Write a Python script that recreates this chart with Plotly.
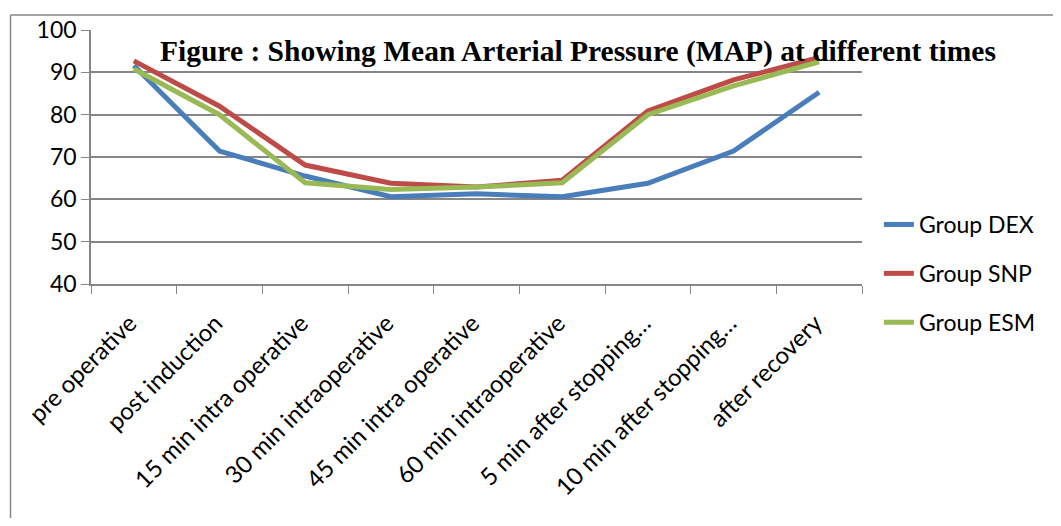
import plotly.graph_objects as go

categories = ["pre operative", "post induction", "15 min intra operative",
              "30 min intraoperative", "45 min intra operative", "60 min intraoperative",
              "5 min after stopping…", "10 min after stopping…", "after recovery"]
dex = [91.6, 71.4, 65.5, 60.6, 61.3, 60.6, 63.8, 71.4, 85.3]
snp = [92.7, 82.0, 68.1, 63.8, 62.9, 64.5, 80.9, 88.2, 93.5]
esm = [90.8, 80.0, 63.9, 62.3, 62.9, 63.9, 80.0, 86.8, 92.5]
series_names = ["Group DEX", "Group SNP", "Group ESM"]
colors = ["#4A7EBB", "#BE4B48", "#98B954"]
title_text = "Figure : Showing Mean Arterial Pressure (MAP) at different times"

fig = go.Figure()
for i, (name, vals) in enumerate(zip(series_names, [dex, snp, esm])):
    fig.add_trace(go.Scatter(x=categories, y=vals, mode="lines", name=name,
                             legendgroup=str(i),
                             line=dict(color=colors[i], width=5)))

OFF = 8  # default page body margin
L, R, T, B = 91, 867, 30, 284   # plot area in page pixels
W, H = 1061 - 2 * OFF, 526 - 2 * OFF
def px(x):
    return (x - L) / (R - L)
def py(y):
    return (B - y) / (B - T)

FS = 23
fig.update_layout(
    width=W, height=H,
    margin=dict(l=L - OFF, r=W - (R - OFF), t=T - OFF, b=H - (B - OFF)),
    paper_bgcolor="white", plot_bgcolor="white",
    font=dict(family="Lato, Liberation Sans, sans-serif", size=FS, color="black"),
    showlegend=True,
    legend=dict(x=px(884), y=py(203), xanchor="left", yanchor="top",
                font=dict(size=FS), tracegroupgap=16, bgcolor="rgba(0,0,0,0)"),
    xaxis=dict(type="category", tickangle=-45, showgrid=False, automargin=False,
               range=[-0.5, len(categories) - 0.5],
               showline=True, linecolor="#868686", linewidth=1.5,
               ticks="outside", tickson="boundaries", ticklen=8,
               tickcolor="#868686", tickfont=dict(size=24),
               ticklabelshift=-4, ticklabelstandoff=14),
    yaxis=dict(range=[40, 100], dtick=10, showgrid=True, gridcolor="#868686",
               gridwidth=1.5, showline=True, linecolor="#868686", linewidth=1.5,
               ticks="outside", ticklen=8, tickcolor="#868686", automargin=False,
               tickfont=dict(size=FS), zeroline=False),
    annotations=[dict(text="<b>" + title_text + "</b>", xref="paper", yref="paper",
                      x=px(581), y=py(52), xanchor="center", yanchor="middle",
                      showarrow=False,
                      font=dict(family="Liberation Serif, Times New Roman, serif",
                                size=29.5, color="black"))],
    shapes=[
        dict(type="line", xref="paper", yref="paper", x0=px(10), x1=px(10),
             y0=py(15), y1=py(540), line=dict(color="#868686", width=1.5)),
        dict(type="line", xref="paper", yref="paper", x0=px(10), x1=px(1080),
             y0=py(15), y1=py(15), line=dict(color="#868686", width=1.5)),
    ],
)

fig.write_html("out.html")
